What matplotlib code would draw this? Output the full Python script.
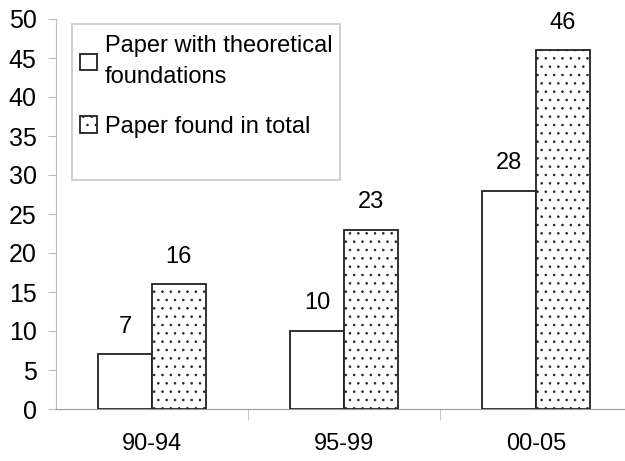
import matplotlib
import matplotlib.pyplot as plt
from matplotlib.patches import Rectangle
import numpy as np

matplotlib.use('Agg')
plt.rcParams['font.family'] = ['Liberation Sans', 'DejaVu Sans']
plt.rcParams['hatch.linewidth'] = 0.6
plt.rcParams['hatch.color'] = '#333333'

periods = ['90-94', '95-99', '00-05']
theoretical = [7, 10, 28]
total = [16, 23, 46]
labels = ['Paper with theoretical\nfoundations', 'Paper found in total']

fig = plt.figure(figsize=(6.25, 4.61), dpi=100)
ax = fig.add_axes([56 / 625, 52 / 461, (625 - 56) / 625, 390 / 461])

x = np.arange(len(periods))
w = 0.28
b1 = ax.bar(x - w / 2, theoretical, w, color='white', edgecolor='#222222', linewidth=1.3, label=labels[0])
b2 = ax.bar(x + w / 2, total, w, color='white', edgecolor='#222222', linewidth=1.3, hatch='..', label=labels[1])

for bars, vals in [(b1, theoretical), (b2, total)]:
    for r, v in zip(bars, vals):
        ax.annotate(str(v), (r.get_x() + r.get_width() / 2, v), xytext=(0, 12),
                    textcoords='offset points', ha='center', va='bottom', fontsize=17)

ax.set_ylim(0, 50)
ax.set_yticks(range(0, 51, 5))
ax.set_xlim(-0.5, 2.5 - 7 / 192)
ax.set_xticks(x)
ax.set_xticklabels(periods, fontsize=17)
ax.set_xticks([0.5, 1.5], minor=True)
ax.tick_params(axis='x', which='major', length=0, pad=17)
ax.tick_params(axis='x', which='minor', length=8, color='#bbbbbb', direction='out')
ax.tick_params(axis='y', labelsize=18, length=6, color='#bbbbbb', pad=8)
for s in ['top', 'right']:
    ax.spines[s].set_visible(False)
ax.spines['left'].set_color('#bbbbbb')
ax.spines['bottom'].set_color('#999999')

# legend frame is taller than its entries in the original
ax.add_patch(Rectangle((16 / 569, 229 / 390), 268 / 569, 156 / 390, transform=ax.transAxes,
                       facecolor='white', edgecolor='#cccccc', linewidth=1.3, zorder=3))
leg = ax.legend(loc='upper left', bbox_to_anchor=(24 / 569, 1 - 16 / 390), fontsize=17,
                frameon=False, handlelength=0.7, handleheight=0.7, handletextpad=0.35,
                borderpad=0, labelspacing=1.15, borderaxespad=0)
for t in leg.get_texts():
    t.set_linespacing(1.55)
leg.set_zorder(4)

plt.savefig('out.png', dpi=100)
plt.close()
